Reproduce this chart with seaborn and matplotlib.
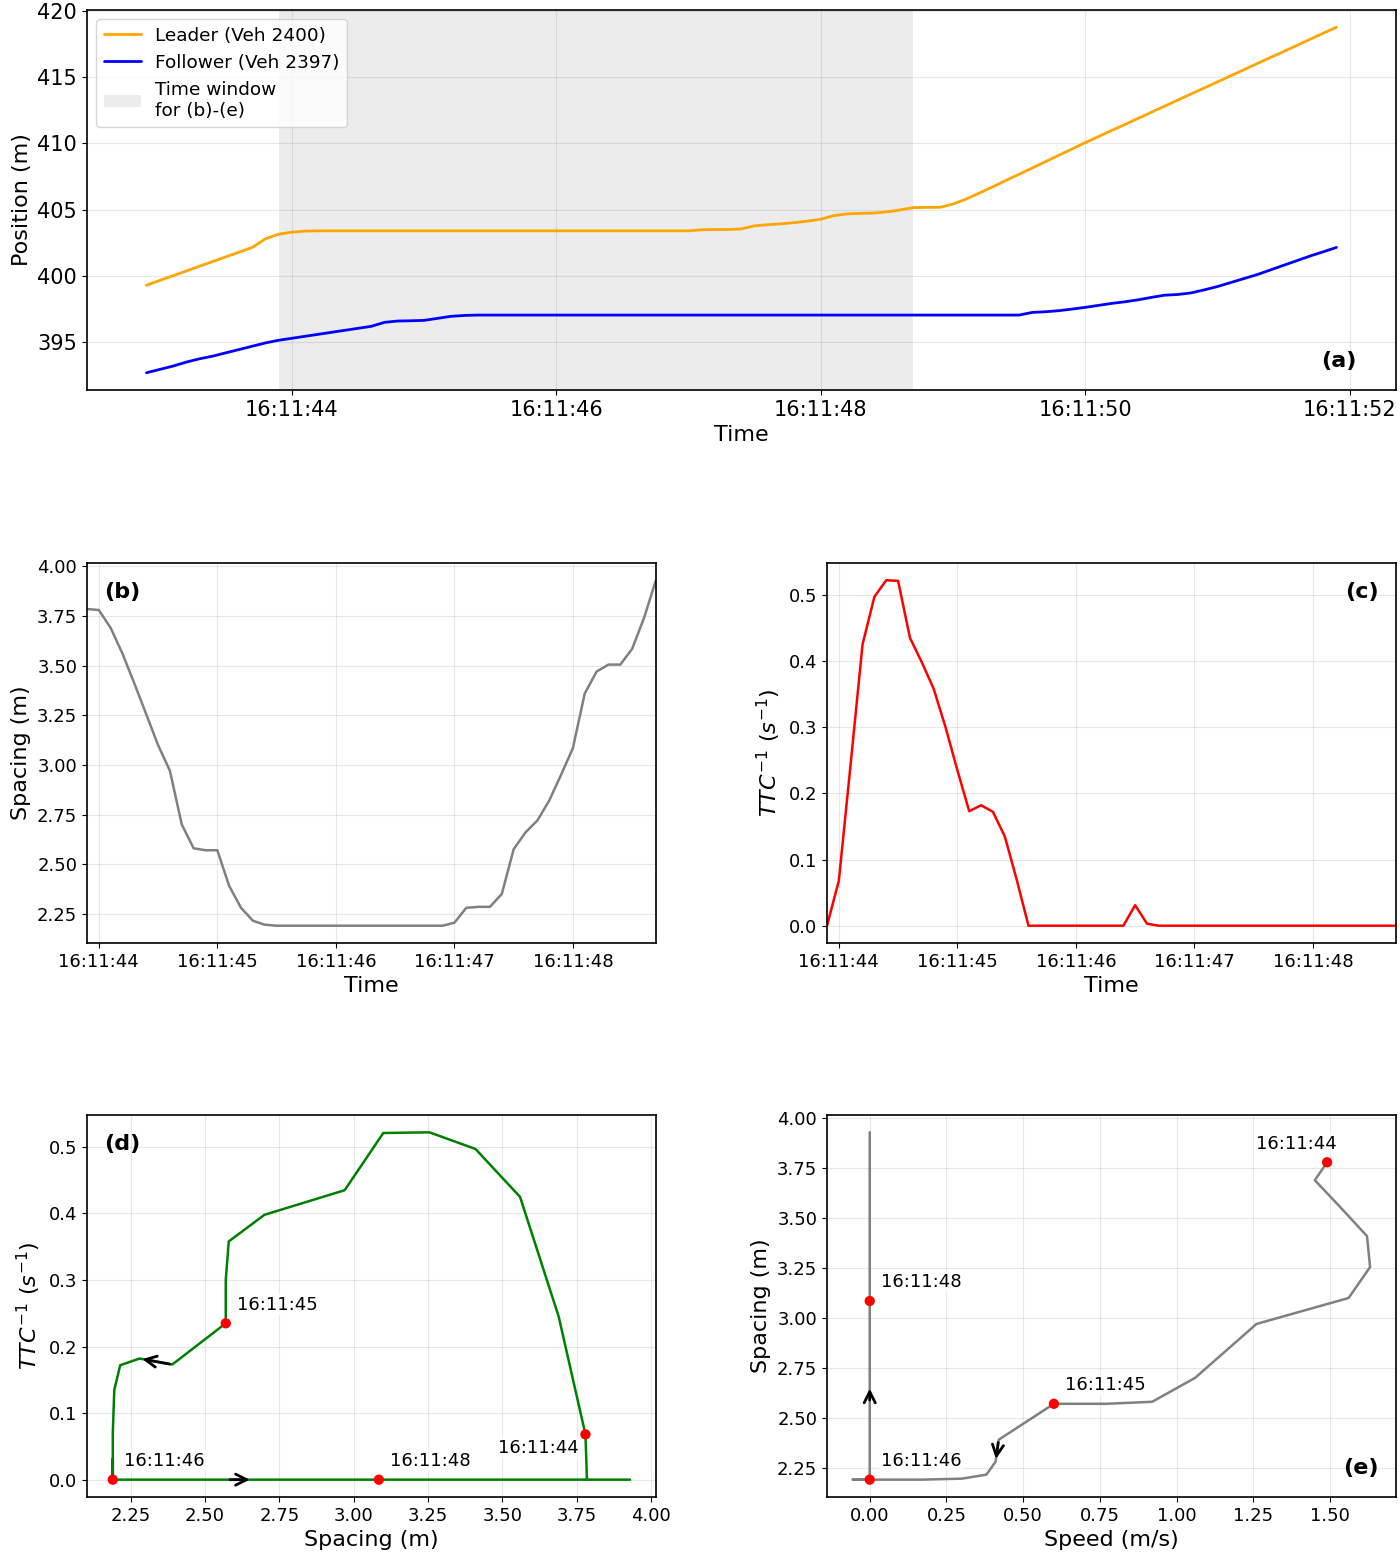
import matplotlib
matplotlib.use("Agg")
import matplotlib.pyplot as plt
import matplotlib.dates as mdates
import pandas as pd
import seaborn as sns

# positions for the full trajectory, 16:11:42.9 -> 16:11:51.9 every 0.1 s
leader_pos = [399.3, 399.66, 400.01, 400.37, 400.73, 401.08, 401.44, 401.79, 402.15,
              402.8, 403.15, 403.3, 403.38,
              403.4, 403.4, 403.4, 403.4, 403.4, 403.4, 403.4, 403.4, 403.4, 403.4,
              403.4, 403.4, 403.4, 403.4, 403.4, 403.4, 403.4, 403.4, 403.4, 403.4,
              403.4, 403.4, 403.4, 403.4, 403.4, 403.4, 403.4, 403.4, 403.4,
              403.48, 403.5, 403.5, 403.55, 403.78, 403.86, 403.93, 404.02, 404.13, 404.28,
              404.55, 404.68, 404.72, 404.74, 404.83, 404.98, 405.15, 405.17, 405.17, 405.42,
              405.8, 406.25, 406.72, 407.2, 407.67, 408.14, 408.62, 409.1, 409.57, 410.05,
              410.51, 410.97, 411.42, 411.88, 412.34, 412.8, 413.26, 413.72, 414.17, 414.63,
              415.09, 415.55, 416.01, 416.47, 416.92, 417.38, 417.84, 418.3, 418.75]
follower_pos = [392.7, 392.95, 393.2, 393.5, 393.75, 393.95, 394.2, 394.45, 394.7, 394.95,
                395.15, 395.3, 395.45, 395.6, 395.75, 395.9, 396.05, 396.2, 396.5, 396.6,
                396.62, 396.65, 396.8, 396.95, 397.02, 397.05,
                397.05, 397.05, 397.05, 397.05, 397.05, 397.05, 397.05, 397.05, 397.05, 397.05,
                397.05, 397.05, 397.05, 397.05, 397.05, 397.05, 397.05, 397.05, 397.05, 397.05,
                397.05, 397.05, 397.05, 397.05, 397.05, 397.05, 397.05, 397.05, 397.05, 397.05,
                397.05, 397.05, 397.05, 397.05, 397.05, 397.05, 397.05, 397.05, 397.05, 397.05,
                397.05,
                397.25, 397.3, 397.38, 397.5, 397.63, 397.78, 397.93, 398.05, 398.2, 398.38,
                398.55, 398.6, 398.72, 398.95, 399.2, 399.5, 399.8, 400.1, 400.45, 400.8,
                401.15, 401.5, 401.82, 402.15]

# time window 16:11:43.9 -> 16:11:48.7 every 0.1 s
spacing = [3.785, 3.78, 3.69, 3.56, 3.41, 3.255, 3.10, 2.97, 2.70, 2.58, 2.57, 2.57,
           2.39, 2.28, 2.215, 2.195, 2.19,
           2.19, 2.19, 2.19, 2.19, 2.19, 2.19, 2.19, 2.19, 2.19, 2.19, 2.19, 2.19, 2.19, 2.19,
           2.205, 2.28, 2.285, 2.285, 2.35, 2.575, 2.66, 2.72, 2.82, 2.95, 3.085, 3.36,
           3.47, 3.505, 3.505, 3.585, 3.74, 3.93]
ttc_inv = [0.0, 0.068, 0.245, 0.425, 0.497, 0.522, 0.521, 0.435, 0.398, 0.358, 0.30, 0.235,
           0.173, 0.182, 0.172, 0.135, 0.07, 0.0,
           0.0, 0.0, 0.0, 0.0, 0.0, 0.0, 0.0, 0.0,
           0.031, 0.003,
           0.0, 0.0, 0.0, 0.0, 0.0, 0.0, 0.0, 0.0, 0.0, 0.0, 0.0, 0.0, 0.0, 0.0, 0.0, 0.0,
           0.0, 0.0, 0.0, 0.0, 0.0]
follower_speed = [1.50, 1.49, 1.45, 1.53, 1.62, 1.63, 1.56, 1.26, 1.06, 0.92, 0.77, 0.60,
                  0.42, 0.41, 0.38, 0.30, 0.17, -0.055,
                  0.0, 0.0, 0.0, 0.0, 0.0, 0.0, 0.0, 0.0, 0.0, 0.0, 0.0, 0.0, 0.0, 0.0, 0.0,
                  0.0, 0.0, 0.0, 0.0, 0.0, 0.0, 0.0, 0.0, 0.0, 0.0, 0.0, 0.0, 0.0, 0.0, 0.0, 0.0]

marked_labels = ["16:11:44", "16:11:45", "16:11:46", "16:11:48"]
marked_idx = [1, 11, 21, 41]
arrow_idx = [12, 36]

t_all = pd.date_range("2023-01-01 16:11:42.9", periods=len(leader_pos), freq="100ms")
t_win = pd.date_range("2023-01-01 16:11:43.9", periods=len(spacing), freq="100ms")

sns.set_style("ticks")
plt.rcParams["font.family"] = ["DejaVu Sans"]
plt.rcParams.update({"text.color": "black", "axes.labelcolor": "black",
                     "xtick.color": "black", "ytick.color": "black"})

fig = plt.figure(figsize=(14, 15.62), dpi=100)
ax_a = fig.add_axes([0.0621, 0.7503, 0.9350, 0.2433])
ax_b = fig.add_axes([0.0621, 0.3963, 0.4064, 0.2433])
ax_c = fig.add_axes([0.5907, 0.3963, 0.4064, 0.2433])
ax_d = fig.add_axes([0.0621, 0.0416, 0.4064, 0.2446])
ax_e = fig.add_axes([0.5907, 0.0416, 0.4064, 0.2446])

fmt = mdates.DateFormatter("%H:%M:%S")

# (a) positions
sns.lineplot(x=t_all, y=leader_pos, color="orange", lw=2, label="Leader (Veh 2400)", ax=ax_a)
sns.lineplot(x=t_all, y=follower_pos, color="blue", lw=2, label="Follower (Veh 2397)", ax=ax_a)
ax_a.axvspan(t_win[0], t_win[-1], color="gray", alpha=0.15, lw=0, label="Time window\nfor (b)-(e)")
ax_a.xaxis.set_major_locator(mdates.SecondLocator(bysecond=range(0, 60, 2)))
ax_a.xaxis.set_major_formatter(fmt)
ax_a.set_xlabel("Time", fontsize=16)
ax_a.set_ylabel("Position (m)", fontsize=16)
ax_a.tick_params(labelsize=15)
ax_a.legend(loc="upper left", fontsize=13.3)
ax_a.text(0.97, 0.05, "(a)", transform=ax_a.transAxes, ha="right", va="bottom",
          fontsize=16, fontweight="bold")

# (b) spacing over time
sns.lineplot(x=t_win, y=spacing, color="gray", lw=1.8, ax=ax_b)
ax_b.set_xlim(t_win[0], t_win[-1])
ax_b.xaxis.set_major_locator(mdates.SecondLocator())
ax_b.xaxis.set_major_formatter(fmt)
ax_b.set_xlabel("Time", fontsize=16)
ax_b.set_ylabel("Spacing (m)", fontsize=16)
ax_b.text(0.03, 0.95, "(b)", transform=ax_b.transAxes, ha="left", va="top",
          fontsize=16, fontweight="bold")

# (c) inverse TTC over time
sns.lineplot(x=t_win, y=ttc_inv, color="red", lw=1.8, ax=ax_c)
ax_c.set_xlim(t_win[0], t_win[-1])
ax_c.xaxis.set_major_locator(mdates.SecondLocator())
ax_c.xaxis.set_major_formatter(fmt)
ax_c.set_xlabel("Time", fontsize=16)
ax_c.set_ylabel(r"$TTC^{-1}\ (s^{-1})$", fontsize=16)
ax_c.text(0.97, 0.95, "(c)", transform=ax_c.transAxes, ha="right", va="top",
          fontsize=16, fontweight="bold")


def add_arrows(ax, xs, ys):
    for i in arrow_idx:
        ax.annotate("", xy=(xs[i + 1], ys[i + 1]), xytext=(xs[i], ys[i]),
                    arrowprops=dict(arrowstyle="->", color="black", lw=2, mutation_scale=20))


def add_marks(ax, xs, ys, special):
    sns.scatterplot(x=[xs[i] for i in marked_idx], y=[ys[i] for i in marked_idx],
                    color="red", s=55, edgecolor="none", zorder=4, legend=False, ax=ax)
    for lab, i in zip(marked_labels, marked_idx):
        off, ha, va = special.get(lab, ((8, 7), "left", "bottom"))
        ax.annotate(lab, xy=(xs[i], ys[i]), xytext=off, textcoords="offset points",
                    ha=ha, va=va, fontsize=13,
                    bbox=dict(facecolor="white", edgecolor="none", alpha=0.8, pad=1))


# (d) TTC^-1 vs spacing
sns.lineplot(x=spacing, y=ttc_inv, sort=False, estimator=None, color="green", lw=1.8, ax=ax_d)
add_arrows(ax_d, spacing, ttc_inv)
add_marks(ax_d, spacing, ttc_inv, {"16:11:44": ((-5, -3), "right", "top")})
ax_d.set_xlabel("Spacing (m)", fontsize=16)
ax_d.set_ylabel(r"$TTC^{-1}\ (s^{-1})$", fontsize=16)
ax_d.text(0.03, 0.95, "(d)", transform=ax_d.transAxes, ha="left", va="top",
          fontsize=16, fontweight="bold")

# (e) spacing vs speed
sns.lineplot(x=follower_speed, y=spacing, sort=False, estimator=None, color="gray", lw=1.8, ax=ax_e)
add_arrows(ax_e, follower_speed, spacing)
add_marks(ax_e, follower_speed, spacing, {"16:11:44": ((7, 7), "right", "bottom")})
ax_e.set_xlabel("Speed (m/s)", fontsize=16)
ax_e.set_ylabel("Spacing (m)", fontsize=16)
ax_e.text(0.97, 0.05, "(e)", transform=ax_e.transAxes, ha="right", va="bottom",
          fontsize=16, fontweight="bold")

for ax in [ax_b, ax_c, ax_d, ax_e]:
    ax.tick_params(labelsize=13)
for ax in [ax_a, ax_b, ax_c, ax_d, ax_e]:
    ax.grid(True, color="#b0b0b0", alpha=0.3)
    for sp in ax.spines.values():
        sp.set_color("black")
        sp.set_linewidth(1.2)

fig.savefig("out.png", dpi=100)
